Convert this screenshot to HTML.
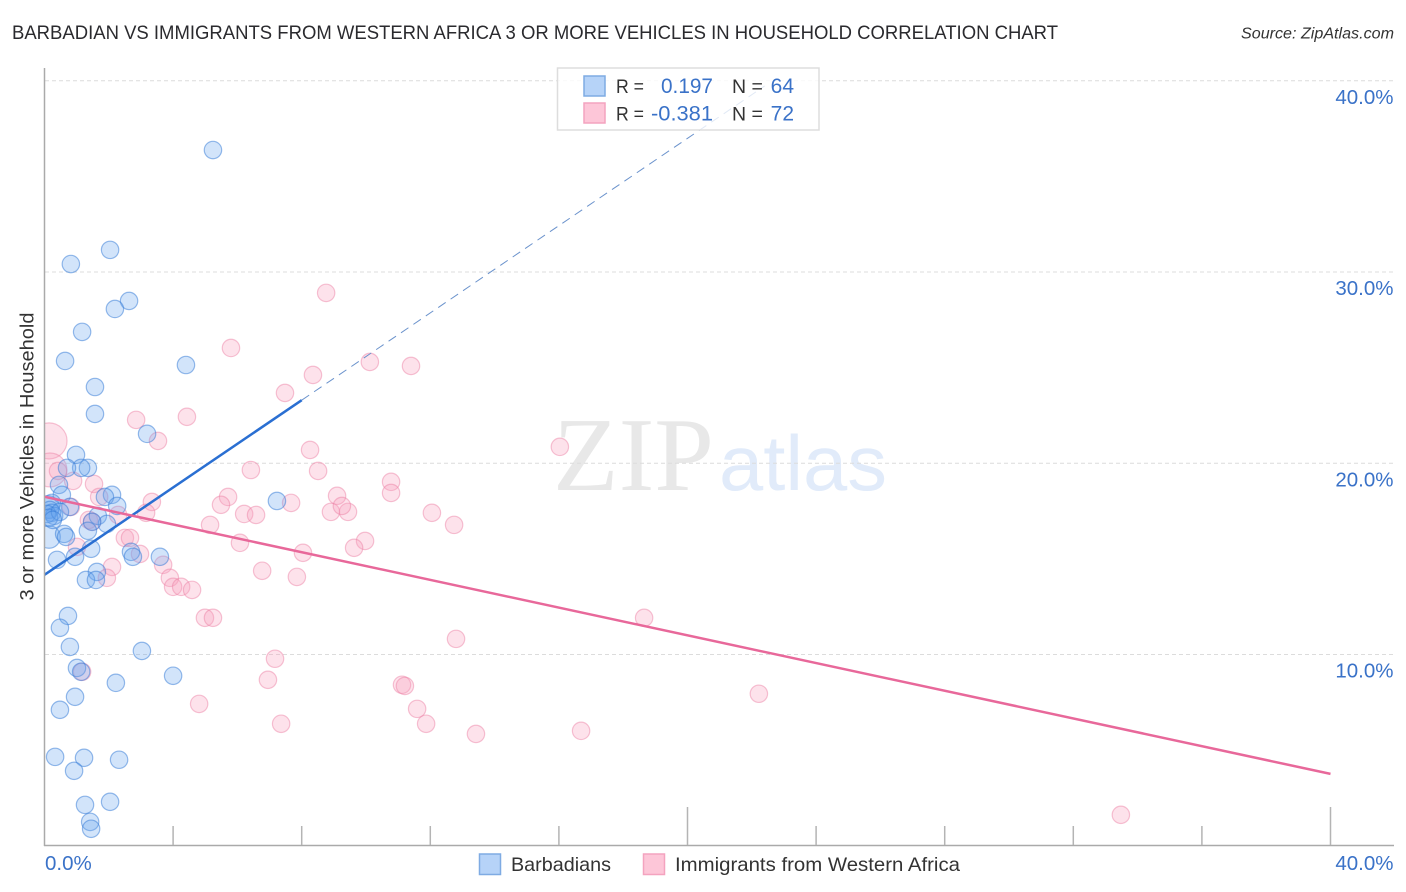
<!DOCTYPE html>
<html lang="en">
<head>
<meta charset="utf-8">
<title>Barbadian vs Immigrants from Western Africa chart</title>
<style>
html,body{margin:0;padding:0;background:#fff;width:1406px;height:892px;overflow:hidden}
svg{display:block;font-family:"Liberation Sans",sans-serif}
</style>
</head>
<body>
<svg id="chart" width="1406" height="892" viewBox="0 0 1406 892" xmlns="http://www.w3.org/2000/svg">
  <text x="12" y="39" font-size="19.5" fill="#2a2a2e" textLength="1046" lengthAdjust="spacingAndGlyphs">BARBADIAN VS IMMIGRANTS FROM WESTERN AFRICA 3 OR MORE VEHICLES IN HOUSEHOLD CORRELATION CHART</text>
  <text x="1394" y="38.5" font-size="15.5" font-style="italic" fill="#333" text-anchor="end" textLength="153" lengthAdjust="spacingAndGlyphs">Source: ZipAtlas.com</text>
  <text x="553" y="490" font-family="'Liberation Serif',serif" font-size="105" fill="#e8e8e8" textLength="161" lengthAdjust="spacingAndGlyphs">ZIP</text>
  <text x="719" y="490" font-size="78" fill="#e1ebfa" textLength="168" lengthAdjust="spacingAndGlyphs">atlas</text>
  <g id="grid"></g>
  <g id="y-labels"></g>
  <g id="pink-points"></g>
  <g id="blue-points"></g>
  <rect x="0" y="60" width="44.5" height="800" fill="#fff"/>
  <g id="trend"></g>
  <g id="axes"></g>
  <text transform="translate(33.5,456.5) rotate(-90)" font-size="19.5" fill="#333" text-anchor="middle" textLength="288" lengthAdjust="spacingAndGlyphs">3 or more Vehicles in Household</text>
  <g>
    <rect x="557.5" y="68" width="261.5" height="62" fill="rgba(255,255,255,0.8)" stroke="#ddd" stroke-width="1.5"/>
    <rect x="584" y="76" width="21" height="20" fill="#b6d3f8" stroke="#7fabe3" stroke-width="1.5"/>
    <rect x="584" y="103" width="21" height="20" fill="#fdc6d8" stroke="#f4a3bf" stroke-width="1.5"/>
    <text x="616" y="93" font-size="19.5" fill="#333" textLength="28" lengthAdjust="spacingAndGlyphs">R =</text>
    <text x="661" y="93" font-size="21" fill="#3a72c8" textLength="52" lengthAdjust="spacingAndGlyphs">0.197</text>
    <text x="732" y="93" font-size="19.5" fill="#333">N =</text>
    <text x="794" y="93" font-size="21" fill="#3a72c8" text-anchor="end">64</text>
    <text x="616" y="120.5" font-size="19.5" fill="#333" textLength="28" lengthAdjust="spacingAndGlyphs">R =</text>
    <text x="651" y="120.5" font-size="21" fill="#3a72c8" textLength="62" lengthAdjust="spacingAndGlyphs">-0.381</text>
    <text x="732" y="120.5" font-size="19.5" fill="#333">N =</text>
    <text x="794" y="120.5" font-size="21" fill="#3a72c8" text-anchor="end">72</text>
  </g>
  <g>
    <rect x="479.5" y="854" width="21" height="20.5" fill="#b6d3f8" stroke="#7fabe3" stroke-width="1.5"/>
    <text x="511" y="871" font-size="19.5" fill="#333" textLength="100" lengthAdjust="spacingAndGlyphs">Barbadians</text>
    <rect x="643.5" y="854" width="21" height="20.5" fill="#fdc6d8" stroke="#f4a3bf" stroke-width="1.5"/>
    <text x="675" y="871" font-size="19.5" fill="#333" textLength="285" lengthAdjust="spacingAndGlyphs">Immigrants from Western Africa</text>
  </g>
</svg>
<script>
const yTicks = [10, 20, 30, 40];
const yTickLabels = ["10.0%", "20.0%", "30.0%", "40.0%"];
const xTicks = [0, 4, 8, 12, 16, 20, 24, 28, 32, 36, 40];
const xMajorTicks = [20, 40];
const xEdgeLabels = ["0.0%", "40.0%"];

const blueX = [5.24,2.04,0.82,2.63,2.19,1.17,0.64,4.40,1.57,1.57,3.19,0.98,1.35,1.14,0.70,0.45,0.54,2.10,1.88,2.26,7.23,0.79,0.23,0.17,0.23,0.30,0.08,0.14,0.48,0.26,1.66,1.94,1.48,1.35,0.61,0.67,1.45,2.69,2.75,3.59,0.39,0.95,1.63,1.29,1.60,0.73,0.48,0.79,3.03,1.01,1.14,2.22,4.00,0.95,0.48,0.33,1.23,2.32,0.92,2.04,1.26,1.42,1.45];
const blueY = [36.38,31.16,30.42,28.49,28.07,26.87,25.35,25.14,23.99,22.58,21.54,20.44,19.76,19.76,19.76,18.87,18.35,18.35,18.24,17.77,18.03,17.72,17.93,17.56,17.41,17.25,17.35,17.15,17.46,17.04,17.25,16.83,16.94,16.47,16.31,16.15,15.53,15.37,15.11,15.11,14.95,15.11,14.32,13.90,13.90,12.02,11.40,10.40,10.19,9.30,9.10,8.52,8.89,7.79,7.11,4.65,4.60,4.50,3.92,2.30,2.14,1.25,0.89];
const blueLargeX = [0.14, 0.11];
const blueLargeY = [16.15, 17.72];
const blueLargeWeight = [1.7, 1.7];

const pinkX = [0.42,0.89,1.54,1.70,0.82,2.29,3.34,3.16,1.38,1.48,2.50,2.66,2.97,1.01,2.10,1.94,3.69,3.90,4.00,4.25,4.59,4.99,5.24,2.85,3.53,4.43,8.26,8.51,6.42,5.71,5.49,6.21,6.58,5.15,7.67,6.08,8.04,6.77,7.85,9.10,8.91,9.44,9.25,9.97,9.63,8.76,5.80,10.12,11.40,8.35,7.48,16.03,10.78,10.78,12.05,12.74,18.65,12.80,7.17,6.95,11.12,11.21,22.22,4.81,11.59,7.36,11.87,13.42,16.69,33.48,1.17];
const pinkY = [19.60,19.08,18.92,18.24,17.72,17.30,17.98,17.41,17.04,16.94,16.10,16.10,15.26,15.63,14.58,14.01,14.69,14.01,13.54,13.54,13.38,11.92,11.92,22.27,21.17,22.43,20.70,19.60,19.65,18.24,17.83,17.35,17.30,16.78,17.93,15.84,15.32,14.38,14.06,18.30,17.46,17.46,17.77,15.94,15.58,28.91,26.03,25.30,25.09,24.62,23.68,20.86,19.03,18.45,17.41,16.78,11.92,10.82,9.78,8.68,8.42,8.36,7.95,7.42,7.16,6.38,6.38,5.85,6.01,1.62,9.10];
const pinkLargeX = [0.14, 0.17];
const pinkLargeY = [21.17, 19.65];
const pinkLargeWeight = [4.3, 3.8];

const blueTrendX = [0, 8, 22.4];
const blueTrendY = [14.17, 23.3, 39.73];
const pinkTrendX = [0, 40];
const pinkTrendY = [18.25, 3.76];

const NS = "http://www.w3.org/2000/svg";
const xScale = function (v) { return 44.5 + v * 32.15; };
const yScale = function (v) { return 845.8 - v * 19.125; };
const rScale = function (w) { return 8.7 * Math.sqrt(w); };

function make(tag, attrs) {
  const el = document.createElementNS(NS, tag);
  Object.keys(attrs).forEach(function (k) { el.setAttribute(k, attrs[k]); });
  return el;
}

const grid = document.getElementById("grid");
const yLabels = document.getElementById("y-labels");
yTicks.forEach(function (t, i) {
  const line = make("line", { x1: 45, x2: 1394, y1: yScale(t), y2: yScale(t), stroke: "#dcdcdc", "stroke-width": 1, "stroke-dasharray": "4 3" });
  
  
  grid.appendChild(line);
  const label = make("text", { x: 1393.5, y: yScale(t) + 23, "font-size": 20.5, fill: "#3a72c8", "text-anchor": "end" });
  
  
  label.textContent = yTickLabels[i];
  yLabels.appendChild(label);
});

function drawPoints(parentId, xs, ys, weights, fill, stroke, name) {
  const parent = document.getElementById(parentId);
  xs.forEach(function (x, i) {
    const c = make("circle", { cx: xScale(x), cy: yScale(ys[i]), r: rScale(weights ? weights[i] : 1), fill: fill, stroke: stroke, "stroke-width": 1.2 });
    
    
    parent.appendChild(c);
  });
}
const pinkFill = "rgba(247,160,190,0.3)", pinkStroke = "rgba(236,130,165,0.48)";
const blueFill = "rgba(105,165,238,0.3)", blueStroke = "rgba(55,125,215,0.52)";
drawPoints("pink-points", pinkLargeX, pinkLargeY, pinkLargeWeight, pinkFill, pinkStroke, "immigrants-point");
drawPoints("pink-points", pinkX, pinkY, null, pinkFill, pinkStroke, "immigrants-point");
drawPoints("blue-points", blueLargeX, blueLargeY, blueLargeWeight, blueFill, blueStroke, "barbadians-point");
drawPoints("blue-points", blueX, blueY, null, blueFill, blueStroke, "barbadians-point");

const trend = document.getElementById("trend");
const blueDash = make("line", { x1: xScale(blueTrendX[1]), y1: yScale(blueTrendY[1]), x2: xScale(blueTrendX[2]), y2: yScale(blueTrendY[2]), stroke: "#6a92cc", "stroke-width": 1, "stroke-dasharray": "9 6" });


trend.appendChild(blueDash);
const blueSolid = make("line", { x1: xScale(blueTrendX[0]), y1: yScale(blueTrendY[0]), x2: xScale(blueTrendX[1]), y2: yScale(blueTrendY[1]), stroke: "#2a6fd2", "stroke-width": 2.5 });


trend.appendChild(blueSolid);
const pinkSolid = make("line", { x1: xScale(pinkTrendX[0]), y1: yScale(pinkTrendY[0]), x2: xScale(pinkTrendX[1]), y2: yScale(pinkTrendY[1]), stroke: "#e8689a", "stroke-width": 2.5 });


trend.appendChild(pinkSolid);

const axes = document.getElementById("axes");
const yAxis = make("line", { x1: 44.5, x2: 44.5, y1: 68, y2: 846, stroke: "#aaa", "stroke-width": 1.5 });


axes.appendChild(yAxis);
const xAxis = make("line", { x1: 44, x2: 1394, y1: 845.5, y2: 845.5, stroke: "#aaa", "stroke-width": 1.5 });


axes.appendChild(xAxis);
xTicks.slice(1).forEach(function (t) {
  const major = xMajorTicks.indexOf(t) >= 0;
  const tick = make("line", { x1: xScale(t), x2: xScale(t), y1: major ? 807 : 826, y2: 845, stroke: "#b4b4b4", "stroke-width": 1.5 });
  
  
  axes.appendChild(tick);
});
const xLabelLeft = make("text", { x: 45, y: 870, "font-size": 20.5, fill: "#3a72c8" });


xLabelLeft.textContent = xEdgeLabels[0];
axes.appendChild(xLabelLeft);
const xLabelRight = make("text", { x: 1393.5, y: 870, "font-size": 20.5, fill: "#3a72c8", "text-anchor": "end" });


xLabelRight.textContent = xEdgeLabels[1];
axes.appendChild(xLabelRight);
</script>
</body>
</html>
